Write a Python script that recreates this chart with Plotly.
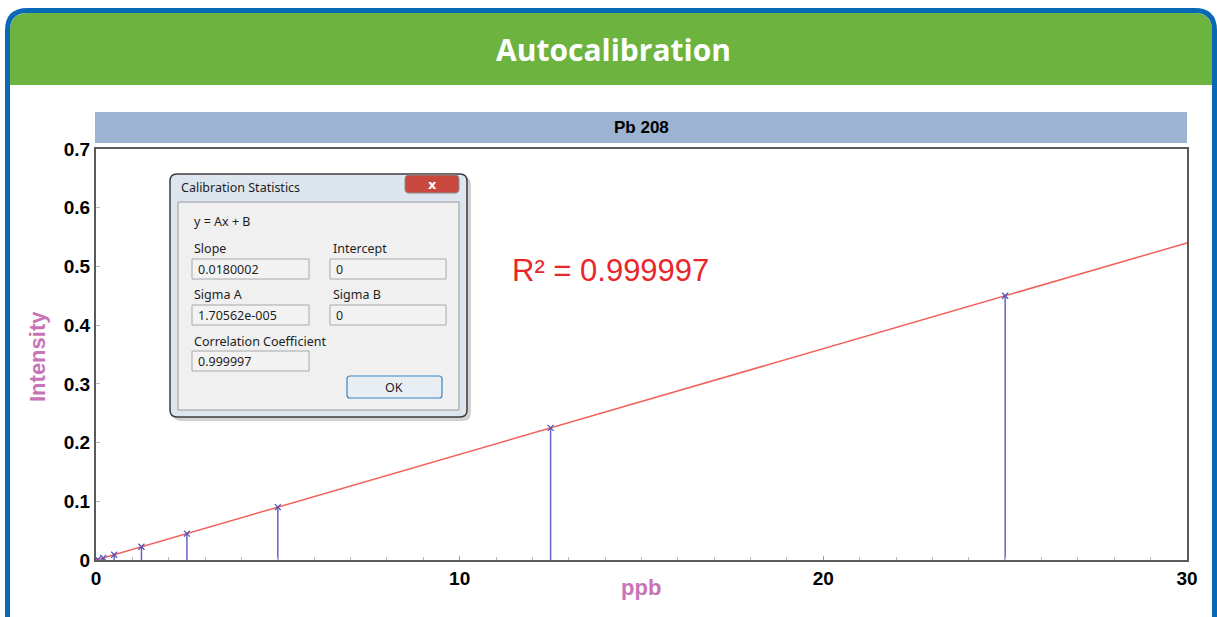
"""Autocalibration: Pb 208 calibration curve with statistics dialog."""
import plotly.graph_objects as go

# data
conc_ppb = [0.05, 0.2, 0.5, 1.25, 2.5, 5, 12.5, 25]
intensity = [0.001, 0.0036, 0.009, 0.0225, 0.045, 0.09, 0.225, 0.45]
fit_x = [0, 30]
fit_y = [0, 0.54]

x_ticks = [0, 10, 20, 30]
y_ticks = [0, 0.1, 0.2, 0.3, 0.4, 0.5, 0.6, 0.7]
y_labels = ["0", "0.1", "0.2", "0.3", "0.4", "0.5", "0.6", "0.7"]

stats_rows = [
    ("Slope", "0.0180002", "Intercept", "0"),
    ("Sigma A", "1.70562e-005", "Sigma B", "0"),
]
corr_label, corr_value = "Correlation Coefficient", "0.999997"

W, H = 1217, 617
L, R, T, B = 96, 1187, 149, 560


def fx(px):
    return (px - L) / (R - L)


def fy(py):
    return (B - py) / (B - T)


def round_path(x0, y0, x1, y1, r, bottom=True):
    """rounded rect in pixel coords -> paper path"""
    def p(x, y):
        return f"{fx(x):.5f},{fy(y):.5f}"
    rb = r if bottom else 0
    s = f"M{p(x0 + r, y0)} L{p(x1 - r, y0)} Q{p(x1, y0)} {p(x1, y0 + r)} "
    s += f"L{p(x1, y1 - rb)} "
    if rb:
        s += f"Q{p(x1, y1)} {p(x1 - rb, y1)} "
    s += f"L{p(x0 + rb, y1)} "
    if rb:
        s += f"Q{p(x0, y1)} {p(x0, y1 - rb)} "
    s += f"L{p(x0, y0 + r)} Q{p(x0, y0)} {p(x0 + r, y0)} Z"
    return s


def rect(x0, y0, x1, y1, fill, line="rgba(0,0,0,0)", lw=1, layer="above"):
    return dict(type="rect", xref="paper", yref="paper",
                x0=fx(x0), x1=fx(x1), y0=fy(y1), y1=fy(y0),
                fillcolor=fill, line=dict(color=line, width=lw), layer=layer)


def path(d, fill, line="rgba(0,0,0,0)", lw=1, layer="above"):
    return dict(type="path", xref="paper", yref="paper", path=d,
                fillcolor=fill, line=dict(color=line, width=lw), layer=layer)


def text(px, py, s, size=12.5, color="#1e1e1e", family="Noto Sans",
         anchor="left", weight="normal"):
    return dict(xref="paper", yref="paper", x=fx(px), y=fy(py), text=s,
                showarrow=False, xanchor=anchor, yanchor="middle",
                font=dict(size=size, color=color, family=family, weight=weight))


# stems from zero up to each point
stem_x, stem_y = [], []
for c, v in zip(conc_ppb, intensity):
    stem_x += [c, c, None]
    stem_y += [0, v, None]

fig = go.Figure()
fig.add_trace(go.Scatter(x=stem_x, y=stem_y, mode="lines",
                         line=dict(color="#6464c8", width=1.5),
                         hoverinfo="skip", showlegend=False))
fig.add_trace(go.Scatter(x=fit_x, y=fit_y, mode="lines",
                         line=dict(color="#f06058", width=1.5),
                         showlegend=False, name="fit"))
fig.add_trace(go.Scatter(x=conc_ppb, y=intensity, mode="markers",
                         marker=dict(symbol="x-thin", size=6,
                                     line=dict(color="#5050b8", width=1.2)),
                         showlegend=False, name="Pb 208"))

shapes = []
# card frame + green header
shapes.append(path(round_path(10, 13, 1212, 85, 18, bottom=False), "#6cb33f", layer="below"))
shapes.append(path(round_path(7.5, 10.5, 1214.5, 640, 20), "rgba(0,0,0,0)",
                   line="#0a69b4", lw=5, layer="below"))
# Pb 208 bar
shapes.append(rect(95, 112, 1187, 143, "#9cb4d1", layer="below"))

# dialog
shapes.append(path(round_path(173, 177, 471, 421, 8), "rgba(0,0,0,0.18)", layer="above"))
shapes.append(path(round_path(170, 174, 467, 417, 7), "#dde5ee", line="#3c3c3c", lw=1.5))
shapes.append(path(round_path(405, 175, 459, 193, 4), "#c8483e", line="#8a8a8a", lw=1))
shapes.append(rect(178, 202, 459, 410, "#f0f0f0", line="#9a9a9a"))
box_rows = [259, 305]
for top in box_rows:
    shapes.append(rect(192, top, 309, top + 20, "#f3f3f3", line="#a8a8a8"))
    shapes.append(rect(330, top, 446, top + 20, "#f3f3f3", line="#a8a8a8"))
shapes.append(rect(192, 351, 309, 371, "#f3f3f3", line="#a8a8a8"))
shapes.append(path(round_path(347, 376, 442, 398, 3), "#e9eef4", line="#3c86c0", lw=1.2))

ann = [
    text(613, 50, "Autocalibration", size=30, color="white", family="Open Sans",
         anchor="center", weight="bold"),
    text(641, 127, "Pb 208", size=17, color="black", family="Liberation Sans",
         anchor="center", weight="bold"),
    text(510, 270, "R² = 0.999997", size=31, color="#e8262c",
         family="Liberation Sans"),
    text(641, 587, "ppb", size=22, color="#c774b7", family="Liberation Sans",
         anchor="center", weight="bold"),
    dict(xref="paper", yref="paper", x=fx(37), y=fy(357), text="Intensity",
         textangle=-90, showarrow=False, xanchor="center", yanchor="middle",
         font=dict(size=22, color="#c774b7", family="Liberation Sans", weight="bold")),
    text(179, 187, "Calibration Statistics", size=12.5),
    text(432, 184, "x", size=13, color="white", family="DejaVu Sans",
         anchor="center", weight="bold"),
    text(192, 221, "y = Ax + B"),
    text(192, 341, corr_label),
    text(196, 361, corr_value),
    text(394, 387, "OK", anchor="center"),
]
for (l1, v1, l2, v2), top in zip(stats_rows, box_rows):
    ann += [
        text(192, top - 11, l1), text(196, top + 10, v1),
        text(331, top - 11, l2), text(334, top + 10, v2),
    ]

fig.update_layout(
    width=W, height=H,
    margin=dict(l=L, r=W - R, t=T, b=H - B),
    paper_bgcolor="white", plot_bgcolor="white",
    shapes=shapes, annotations=ann,
    font=dict(family="Liberation Sans", color="black"),
)
fig.update_xaxes(
    range=[0, 30], tickvals=x_ticks, showgrid=False, zeroline=False,
    showline=True, mirror=True, linecolor="#5a5a5a", linewidth=2,
    ticks="inside", ticklen=4, tickcolor="#999",
    minor=dict(dtick=1, ticks="inside", ticklen=3, tickcolor="#bbb"),
    tickfont=dict(size=19, family="Liberation Sans", weight="bold"),
)
fig.update_yaxes(
    range=[0, 0.7], tickvals=y_ticks, ticktext=y_labels, showgrid=False,
    zeroline=False, showline=True, mirror=True, linecolor="#5a5a5a", linewidth=2,
    ticks="inside", ticklen=4, tickcolor="#bbb",
    tickfont=dict(size=19, family="Liberation Sans", weight="bold"),
)

# page body has an 8px default margin; drop it so the figure sits at 0,0
fig.write_html("out.html", config={"displayModeBar": False},
               post_script="document.body.style.margin='0';")
